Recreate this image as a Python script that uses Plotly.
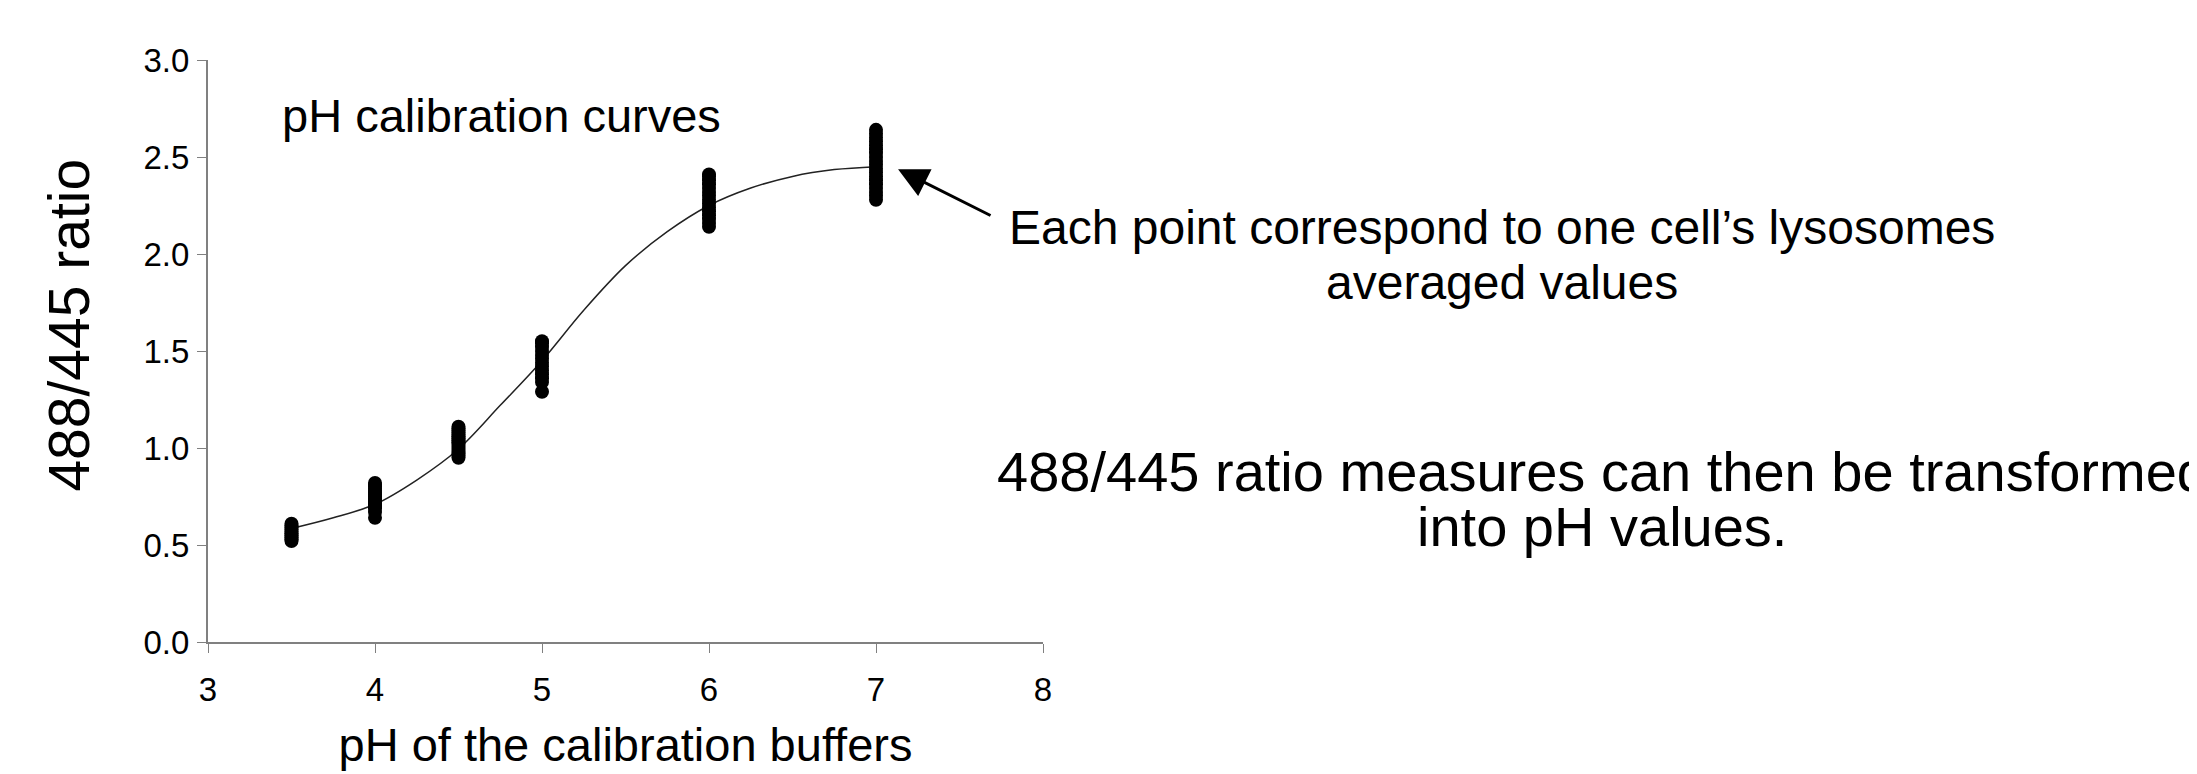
import plotly.graph_objects as go

# ---- data ----
ph_35 = [0.52, 0.53, 0.54, 0.55, 0.56, 0.57, 0.58, 0.59, 0.60, 0.61]
ph_40 = [0.64, 0.67, 0.69, 0.70, 0.71, 0.72, 0.73, 0.74, 0.75, 0.76, 0.77, 0.78, 0.79, 0.80, 0.81, 0.82]
ph_45 = [0.95, 0.96, 0.97, 0.98, 0.99, 1.00, 1.01, 1.02, 1.03, 1.04, 1.05, 1.06, 1.07, 1.08, 1.09, 1.10, 1.11]
ph_50 = [1.29, 1.34, 1.36, 1.38, 1.40, 1.42, 1.44, 1.46, 1.48, 1.50, 1.52, 1.54, 1.55]
ph_60 = [2.14, 2.16, 2.18, 2.20, 2.22, 2.24, 2.26, 2.28, 2.30, 2.32, 2.34, 2.36, 2.38, 2.40, 2.41]
ph_70 = [2.28, 2.30, 2.32, 2.34, 2.36, 2.38, 2.40, 2.42, 2.44, 2.46, 2.48, 2.50, 2.52, 2.54, 2.56, 2.58, 2.60, 2.62, 2.64]

buffer_ph = [3.5, 4.0, 4.5, 5.0, 6.0, 7.0]
cell_ratios = [ph_35, ph_40, ph_45, ph_50, ph_60, ph_70]

fit_ph = [3.5, 3.75, 4.0, 4.25, 4.5, 4.75, 5.0, 5.25, 5.5, 5.75, 6.0, 6.25, 6.5, 6.75, 7.0]
fit_ratio = [0.585, 0.64, 0.71, 0.835, 0.995, 1.22, 1.45, 1.71, 1.94, 2.115, 2.25, 2.34, 2.40, 2.435, 2.45]

x_ticks = [3, 4, 5, 6, 7, 8]
y_ticks = [0.0, 0.5, 1.0, 1.5, 2.0, 2.5, 3.0]

FONT = "Arial, Liberation Sans, sans-serif"

pts_x, pts_y = [], []
for ph, vals in zip(buffer_ph, cell_ratios):
    pts_x += [ph] * len(vals)
    pts_y += vals

fig = go.Figure()
fig.add_trace(go.Scatter(
    x=fit_ph, y=fit_ratio, mode="lines", line=dict(color="#222222", width=1.5, shape="spline"),
    hoverinfo="skip", showlegend=False))
fig.add_trace(go.Scatter(
    x=pts_x, y=pts_y, mode="markers", marker=dict(color="black", size=14),
    showlegend=False))

# page body has an 8px margin, so the figure is sized to fit the 2197x774 window
fig.update_layout(
    width=2189, height=766,
    margin=dict(l=200, r=1154, t=52, b=116),
    paper_bgcolor="white", plot_bgcolor="white",
    font=dict(family=FONT, color="black"),
    xaxis=dict(range=[3, 8], tickvals=x_ticks, ticks="outside", ticklen=9, tickcolor="#808080",
               showline=True, linecolor="#808080", linewidth=2, showgrid=False, zeroline=False,
               tickfont=dict(size=33), ticklabelstandoff=8,
               title=dict(text="pH of the calibration buffers", font=dict(size=47), standoff=22)),
    yaxis=dict(range=[0, 3], tickvals=y_ticks, tickformat=".1f", ticks="outside", ticklen=9,
               tickcolor="#808080", showline=True, linecolor="#808080", linewidth=2,
               showgrid=False, zeroline=False, tickfont=dict(size=33),
               ticklabelstandoff=1),
)

def ptext(txt, x, y, size, angle=0):
    fig.add_annotation(text=txt, xref="paper", yref="paper", x=x, y=y, showarrow=False,
                       xanchor="center", yanchor="middle", textangle=angle,
                       font=dict(size=size, family=FONT, color="black"))

ptext("488/445 ratio", -0.1666, 0.5452, 57, angle=-90)
ptext("pH calibration curves", 0.352, 0.904, 47)
ptext("Each point correspond to one cell\u2019s lysosomes", 1.5497, 0.7119, 48)
ptext("averaged values", 1.5497, 0.6182, 48)
ptext("488/445 ratio measures can then be transformed", 1.6695, 0.2926, 56)
ptext("into pH values.", 1.6695, 0.1990, 56)

fig.add_annotation(x=7.132, y=2.437, xref="x", yref="y", text="", showarrow=True,
                   ax=94, ay=47, axref="pixel", ayref="pixel",
                   arrowhead=2, arrowsize=2, arrowwidth=3, arrowcolor="black")

fig.write_html("out.html")
